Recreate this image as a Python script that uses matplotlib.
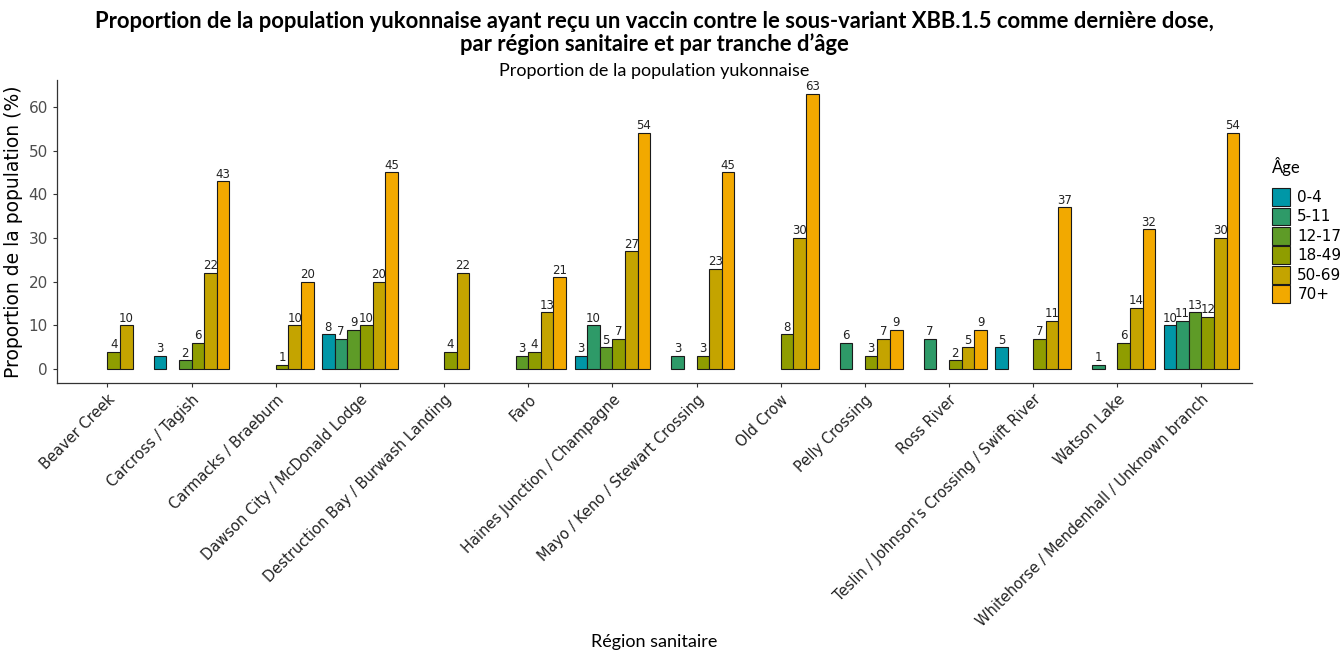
import matplotlib.pyplot as plt
import numpy as np
from matplotlib.patches import Patch

# Données (NaN = barre absente)
regions = [
    "Beaver Creek", "Carcross / Tagish", "Carmacks / Braeburn",
    "Dawson City / McDonald Lodge", "Destruction Bay / Burwash Landing",
    "Faro", "Haines Junction / Champagne", "Mayo / Keno / Stewart Crossing",
    "Old Crow", "Pelly Crossing", "Ross River",
    "Teslin / Johnson's Crossing / Swift River", "Watson Lake",
    "Whitehorse / Mendenhall / Unknown branch",
]
ages = ["0-4", "5-11", "12-17", "18-49", "50-69", "70+"]
nan = np.nan
age_0_4 = [nan, 3, nan, 8, nan, nan, 3, nan, nan, nan, nan, 5, nan, 10]
age_5_11 = [nan, nan, nan, 7, nan, nan, 10, 3, nan, 6, 7, nan, 1, 11]
age_12_17 = [nan, 2, nan, 9, nan, 3, 5, nan, nan, nan, nan, nan, nan, 13]
age_18_49 = [4, 6, 1, 10, 4, 4, 7, 3, 8, 3, 2, 7, 6, 12]
age_50_69 = [10, 22, 10, 20, 22, 13, 27, 23, 30, 7, 5, 11, 14, 30]
age_70p = [nan, 43, 20, 45, nan, 21, 54, 45, 63, 9, 9, 37, 32, 54]
series = [age_0_4, age_5_11, age_12_17, age_18_49, age_50_69, age_70p]
colors = ["#0097A7", "#2E9A68", "#5E9B27", "#8F9D00", "#C4A400", "#F2A900"]

plt.rcParams['font.family'] = ['DejaVu Sans']

fig = plt.figure(figsize=(13.44, 6.54), dpi=100)
ax = fig.add_axes([0.0424, 0.4144, 0.8891, 0.4633])

x = np.arange(1, len(regions) + 1)
w = 0.15
for k, (vals, col) in enumerate(zip(series, colors)):
    vals = np.array(vals, dtype=float)
    pos = x + (k - 2.5) * w
    ax.bar(pos, vals, width=w, color=col, edgecolor="#1a1a1a", linewidth=0.8)
    for p, v in zip(pos, vals):
        if not np.isnan(v):
            ax.text(p, v + 0.15, f"{int(v)}", ha="center", va="bottom",
                    fontsize=8.5, color="#222222")

ax.set_xlim(0.4, len(regions) + 0.6)
ax.set_ylim(-3.15, 66.15)
ax.set_yticks([0, 10, 20, 30, 40, 50, 60])
ax.set_xticks(x)
ax.set_xticklabels(regions, rotation=45, ha="right", rotation_mode="anchor",
                   fontsize=10.5, color="#222222")
ax.tick_params(axis="y", labelsize=11, labelcolor="#4d4d4d", color="#333333", length=3)
ax.tick_params(axis="x", color="#333333", length=3)
for s in ["top", "right"]:
    ax.spines[s].set_visible(False)
for s in ["left", "bottom"]:
    ax.spines[s].set_color("#333333")
    ax.spines[s].set_linewidth(0.9)

ax.set_ylabel("Proportion de la population (%)", fontsize=13.5, labelpad=4)
ax.set_xlabel("Région sanitaire", fontsize=13, family="Lato")
ax.xaxis.set_label_coords(0.5, -0.83)

fig.text(0.487, 0.983, "Proportion de la population yukonnaise ayant reçu un vaccin contre le sous-variant XBB.1.5 comme dernière dose,\npar région sanitaire et par tranche d’âge",
         ha="center", va="top", fontsize=15.8, fontweight="bold", family="Lato",
         linespacing=1.08)
fig.text(0.487, 0.891, "Proportion de la population yukonnaise", ha="center",
         va="center", fontsize=13, family="Lato")

handles = [Patch(facecolor=c, edgecolor="#1a1a1a", linewidth=0.8) for c in colors]
leg = fig.legend(handles, ages, title="Âge", loc="upper left",
                 bbox_to_anchor=(0.942, 0.77), frameon=False, fontsize=11,
                 title_fontsize=12, handlelength=1.15, handleheight=1.4,
                 handletextpad=0.5, labelspacing=0.12, borderaxespad=0)
leg._legend_box.align = "left"
leg._legend_box.sep = 9
leg.get_title().set_family("Lato")

fig.savefig("out.png", dpi=100)
